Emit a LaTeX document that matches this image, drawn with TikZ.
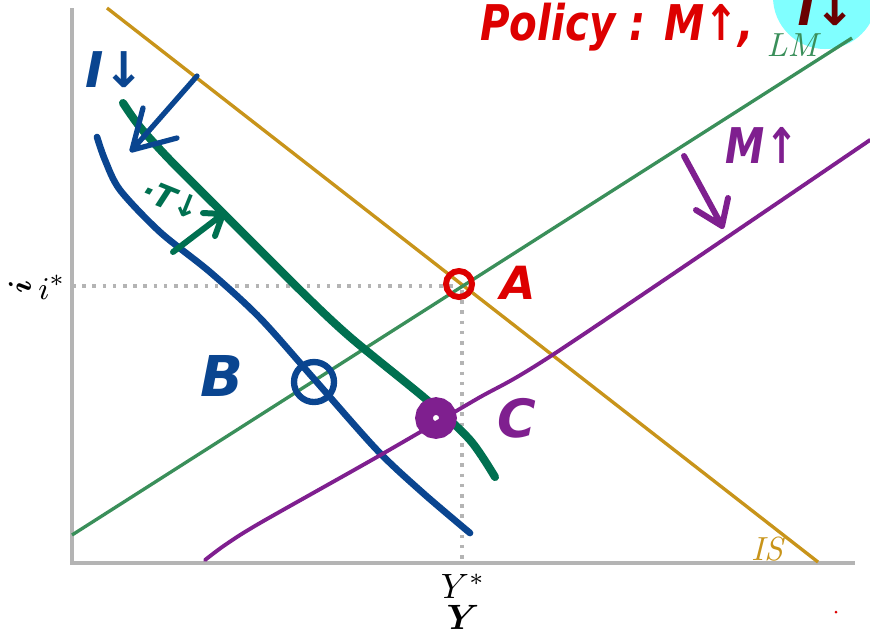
\documentclass[tikz,border=0pt]{standalone}
\usepackage{fontspec}
\usepackage{bm}
\newfontfamily\handfont{DejaVu Sans}
\usetikzlibrary{arrows.meta,positioning}

\definecolor{axisgray}{RGB}{180,180,180}
\definecolor{lmgreen}{RGB}{58,143,90}
\definecolor{isgold}{RGB}{200,148,26}
\definecolor{penblue}{RGB}{10,69,144}
\definecolor{pengreen}{RGB}{0,112,80}
\definecolor{penpurple}{RGB}{127,31,143}
\definecolor{penred}{RGB}{221,0,0}
\definecolor{pendark}{RGB}{106,0,0}
\definecolor{marker}{RGB}{128,255,255}

\begin{document}
\begin{tikzpicture}[x=0.01cm,y=-0.01cm,
  pen/.style={line cap=round,line join=round},
  hand/.style={font=\handfont\bfseries\itshape\fontsize{#1}{#1}\selectfont}]
    \useasboundingbox (0,0) rectangle (870,632);

    % Highlight
    \fill[marker] (825,-3) circle (52);

    % Axes
    \draw[axisgray, line width=0.9pt] (72,8) -- (72,563) -- (855,563);

    % Equilibrium guides
    \draw[axisgray, line width=1pt, dash pattern=on 1pt off 1.9pt] (72,286) -- (460,286);
    \draw[axisgray, line width=1pt, dash pattern=on 1pt off 1.9pt] (462,290) -- (462,563);

    % IS and LM
    \draw[isgold, line width=0.95pt] (107,8) -- (818,562);
    \draw[lmgreen, line width=0.95pt] (72,535) -- (852,38);
    \node[isgold, font=\fontsize{9.5}{9.5}\selectfont\itshape] (islabel) at (767,549) {IS};
    \node[lmgreen, font=\fontsize{9.5}{9.5}\selectfont\itshape] (lmlabel) at (792,45) {LM};

    % Axis labels
    \node[font=\fontsize{9.5}{9.5}\selectfont] (istar) at (52,287) {$i^*$};
    \node[font=\fontsize{9.5}{9.5}\selectfont, rotate=90] (ilabel) at (20,287) {$\bm{i}$};
    \node[font=\fontsize{10}{10}\selectfont] (ystar) at (463,586) {$Y^*$};
    \node[font=\fontsize{10}{10}\selectfont] (ylabel) at (463,617) {$\bm{Y}$};

    % Hand-drawn shifts
    \draw[pengreen, pen, line width=2.3pt] plot[smooth] coordinates {(123,103) (140,127) (170,160) (220,210) (300,290) (350,337) (427,400) (470,440) (495,477)};
    \draw[penblue, pen, line width=1.9pt] plot[smooth] coordinates {(97,137) (105,160) (120,190) (160,232) (210,272) (260,318) (315,380) (377,450) (423,493) (470,533)};
    \draw[penpurple, pen, line width=1.1pt] plot[smooth, tension=0.5] coordinates {(205,560) (225,545) (260,523) (377,457) (475,400) (560,350) (870,140)};

    % Arrows
    \draw[penblue, pen, line width=1.5pt] (197,76) -- (132,150) (143,108) -- (132,150) -- (177,138);
    \draw[pengreen, pen, line width=1.7pt] (173,252) -- (223,214) (203,213) -- (223,214) -- (215,236);
    \draw[penpurple, pen, line width=1.7pt] (684,156) -- (722,226) (696,210) -- (722,226) -- (728,198);

    % Points
    \draw[penred, line width=1.7pt] (459,284) circle (13);
    \draw[penblue, line width=1.8pt] (314,382) circle (20);
    \draw[penpurple, line width=5pt] (436,418) circle (12);

    % Handwritten labels
    \node[penred, hand=13] (pointa) at (518,283) {A};
    \node[penblue, hand=16] (pointb) at (222,376) {B};
    \node[penpurple, hand=15] (pointc) at (517,418) {C};
    \node[penblue, hand=14] (invest) at (115,70) {I↓};
    \node[pengreen, hand=9, rotate=-22] (taxes) at (172,200) {·T↓};
    \node[penpurple, hand=14, xscale=0.8] (money) at (762,145) {M↑};
    \node[penred, hand=14, xscale=0.82] (policy) at (617,27) {Policy : M↑,};
    \node[pendark, hand=14, anchor=base] (effect) at (827,25) {i↓};

    \fill[penred] (836,612) circle (1.5);
\end{tikzpicture}
\end{document}
